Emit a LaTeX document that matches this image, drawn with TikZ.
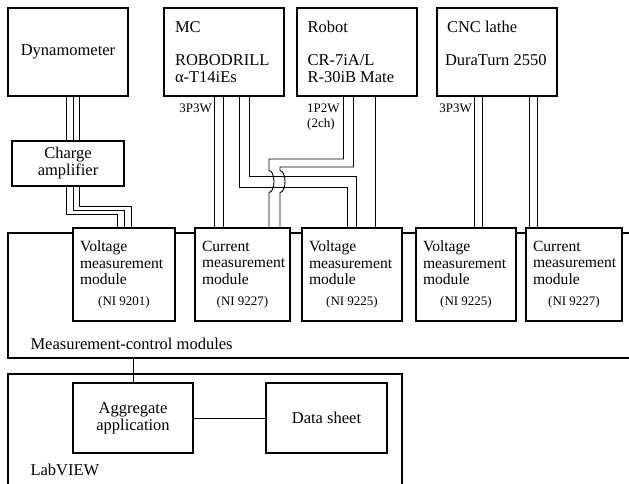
\documentclass[tikz,border=0pt]{standalone}
\usepackage{fontspec}
\setmainfont{Liberation Serif}
\usetikzlibrary{positioning}
\newcommand{\wirefont}{\fontsize{13}{14.5}\selectfont}
\tikzset{
    devbox/.style={draw, fill=white, line width=1.8pt, outer sep=0pt, minimum width=120pt, minimum height=88pt, inner xsep=11pt, text width=98pt, align=flush left},
    ampbox/.style={draw, fill=white, line width=1.8pt, outer sep=0pt, minimum width=112pt, minimum height=45pt, align=center},
    modbox/.style={draw, fill=white, line width=1.8pt, outer sep=0pt, minimum height=93pt, inner xsep=7pt, text width=86pt, align=flush left, font=\fontsize{15.6}{16.8}\selectfont},
    appbox/.style={draw, fill=white, line width=1.8pt, outer sep=0pt, minimum width=120pt, minimum height=70pt, align=center},
    frame/.style={draw, line width=1.4pt, outer sep=0pt, anchor=north west},
    lbl/.style={font=\wirefont, inner sep=0pt, align=flush left},
    wire/.style={line width=0.9pt}
}

\begin{document}
\begin{tikzpicture}[x=1pt, y=-1pt, font=\fontsize{16.5}{17}\selectfont]
  \useasboundingbox (0,0) rectangle (629,483);
  % frames
  \node(meas)[frame, minimum width=660pt, minimum height=125pt] at (8,233){};
  \node(lab)[frame, minimum width=394pt, minimum height=140pt] at (8,374){};
  \node(measlbl)[anchor=west] at ([shift={(19pt,14pt)}]meas.south west){Measurement-control modules};
  \node(lablbl)[anchor=west] at ([shift={(19pt,-96pt)}]lab.north west){LabVIEW};
  % machines
  \node(dyn)[devbox, align=center, anchor=north west] at (8,8){Dynamometer};
  \node(mc)[devbox, right=36pt of dyn]{MC\\[16pt]ROBODRILL\\α-T14iEs};
  \node(robot)[devbox, right=13pt of mc, inner xsep=10pt, text width=99pt]{Robot\\[16pt]CR-7iA/L\\R-30iB Mate};
  \node(cnc)[devbox, right=20pt of robot, inner xsep=8pt, text width=104pt]{\hspace*{2pt}CNC lathe\\[16pt]DuraTurn 2550\\\mbox{}};
  \node(amp)[ampbox, below=45pt of dyn]{Charge\\amplifier};
  % modules
  \node(volt1)[modbox, text width=88pt, anchor=north west] at (73,228){Voltage\\measurement\\module\\[4pt]\hfill{\wirefont(NI 9201)}\hfill\null};
  \node(cur1)[modbox, text width=81pt, right=20pt of volt1]{Current\\measurement\\module\\[4pt]\hfill{\wirefont(NI 9227)}\hfill\null};
  \node(volt2)[modbox, right=12pt of cur1]{Voltage\\measurement\\module\\[4pt]\hfill{\wirefont(NI 9225)}\hfill\null};
  \node(volt3)[modbox, right=14pt of volt2]{Voltage\\measurement\\module\\[4pt]\hfill{\wirefont(NI 9225)}\hfill\null};
  \node(cur2)[modbox, text width=82pt, right=10pt of volt3]{Current\\measurement\\module\\[4pt]\hfill{\wirefont(NI 9227)}\hfill\null};
  % LabVIEW
  \node(agg)[appbox, anchor=north west] at (73,383){Aggregate\\application};
  \node(sheet)[appbox, minimum width=121pt, right=73pt of agg]{Data sheet};
  % wiring labels
  \node(mclbl)[lbl, anchor=north east] at ([shift={(-12pt,-8pt)}]mc.south){3P3W};
  \node(robotlbl)[lbl, anchor=north west] at ([shift={(10pt,-8pt)}]robot.south west){1P2W\\(2ch)};
  \node(cnclbl)[lbl, anchor=north east] at ([shift={(-25pt,-8pt)}]cnc.south){3P3W};
  % dynamometer cable
  \draw[wire]([xshift=-2pt]dyn.south)--([xshift=-2pt]amp.north);
  \draw[wire]([xshift=5pt]dyn.south)--([xshift=5pt]amp.north);
  \draw[wire]([xshift=11pt]dyn.south)--([xshift=11pt]amp.north);
  \draw[wire]([xshift=-2pt]amp.south)--++(0,28)-|([xshift=-7pt]volt1.north);
  \draw[wire]([xshift=5pt]amp.south)--++(0,24)-|(volt1.north);
  \draw[wire]([xshift=11pt]amp.south)--++(0,20)-|([xshift=7pt]volt1.north);
  % MC
  \draw[wire]([xshift=-10pt]mc.south)--([xshift=-10pt]mc.south |- cur1.north);
  \draw[wire]([xshift=-1pt]mc.south)--([xshift=-1pt]mc.south |- cur1.north);
  \draw[wire]([xshift=15pt]mc.south)--++(0,91)-|([xshift=-5pt]volt2.north);
  \draw[wire]([xshift=25pt]mc.south)--++(0,80)-|([xshift=4pt]volt2.north);
  % robot, hopping over the MC lines
  \draw[wire]([xshift=-13.5pt]robot.south)--++(0,63)-|(269,170.5)
    arc[start angle=90, end angle=-90, x radius=5pt, y radius=11pt]--([xshift=26.5pt]cur1.north);
  \draw[wire]([xshift=-3.5pt]robot.south)--++(0,71)-|(280,170.5)
    arc[start angle=90, end angle=-90, x radius=5pt, y radius=11pt]--([xshift=37.5pt]cur1.north);
  \draw[wire]([xshift=18.5pt]robot.south)--([xshift=18.5pt]robot.south |- volt2.north);
  % CNC lathe
  \draw[wire]([xshift=-23pt]cnc.south)--([xshift=-23pt]cnc.south |- volt3.north);
  \draw[wire]([xshift=-15pt]cnc.south)--([xshift=-15pt]cnc.south |- volt3.north);
  \draw[wire]([xshift=32pt]cnc.south)--([xshift=32pt]cnc.south |- cur2.north);
  \draw[wire]([xshift=40pt]cnc.south)--([xshift=40pt]cnc.south |- cur2.north);
  % to LabVIEW
  \draw[wire](agg.north)--(agg.north |- meas.south);
  \draw[wire](agg)--(sheet);
\end{tikzpicture}
\end{document}
